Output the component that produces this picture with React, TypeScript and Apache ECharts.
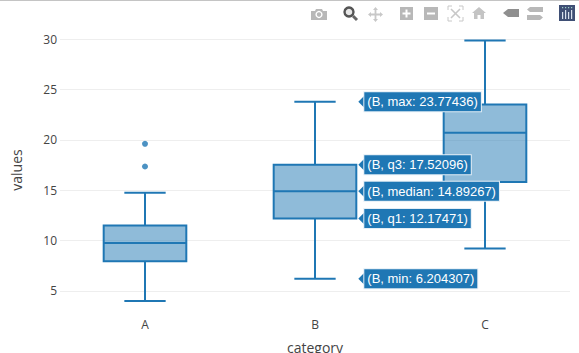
import React, { useEffect, useRef } from "react";
import * as echarts from "echarts";

const categories = ["A", "B", "C"];
const boxA = [0, 4.0, 7.95, 9.75, 11.5, 14.75];
const boxB = [1, 6.204307, 12.17471, 14.89267, 17.52096, 23.77436];
const boxC = [2, 9.2, 15.8, 20.7, 23.5, 29.85];
const outliersA = [[0, 17.35], [0, 19.6]];
const hoverStats = ["min", "q1", "median", "q3", "max"];
const hoverValues = ["6.204307", "12.17471", "14.89267", "17.52096", "23.77436"];
const hoverNumbers = [6.204307, 12.17471, 14.89267, 17.52096, 23.77436];
const yTicks = [5, 10, 15, 20, 25, 30];

const BLUE = "#1f77b4";
const GREY = "#b8b8b8";

echarts.graphic.registerShape("mbCamera", echarts.graphic.extendPath("M0 3 L4 3 L5 1 L11 1 L12 3 L16 3 L16 12 L0 12 Z", {}));
echarts.graphic.registerShape("mbHome", echarts.graphic.extendPath("M7 0 L14 6 L12 6 L12 12 L8.5 12 L8.5 8 L5.5 8 L5.5 12 L2 12 L2 6 L0 6 Z", {}));
echarts.graphic.registerShape("mbTag", echarts.graphic.extendPath("M0 4 L5 0 L16 0 L16 8 L5 8 Z", {}));
echarts.graphic.registerShape("mbCmp", echarts.graphic.extendPath("M3 0 L16 0 L16 5 L3 5 L0 2.5 Z M0 8 L13 8 L16 10.5 L13 13 L0 13 Z", {}));
echarts.graphic.registerShape("mbPan", echarts.graphic.extendPath("M7.5 0 L10 3 L8.4 3 L8.4 6.6 L12 6.6 L12 5 L15 7.5 L12 10 L12 8.4 L8.4 8.4 L8.4 12 L10 12 L7.5 15 L5 12 L6.6 12 L6.6 8.4 L3 8.4 L3 10 L0 7.5 L3 5 L3 6.6 L6.6 6.6 L6.6 3 L5 3 Z", {}));

function corner(x: number, y: number, dx: number, dy: number) {
  return { type: "polyline", shape: { points: [[x + dx * 4, y], [x, y], [x, y + dy * 4]] }, style: { stroke: "#c8c8c8", lineWidth: 1, fill: "none" } };
}

const modebar: any[] = [
  { type: "rect", shape: { x: 0, y: 0, width: 579, height: 1 }, style: { fill: "#c4c4c4" } },
  { type: "mbCamera", x: 311, y: 8, style: { fill: GREY } },
  { type: "circle", shape: { cx: 319, cy: 14.5, r: 3.6 }, style: { fill: "#fff" } },
  { type: "circle", shape: { cx: 319, cy: 14.5, r: 2.2 }, style: { fill: GREY } },
  { type: "line", shape: { x1: 353, y1: 16, x2: 357, y2: 20 }, style: { stroke: "#666", lineWidth: 3 } },
  { type: "circle", shape: { cx: 349, cy: 12, r: 4.5 }, style: { fill: "#e8e8e8", stroke: "#555", lineWidth: 2.4 } },
  { type: "mbPan", x: 368, y: 7, style: { fill: "#c8c8c8" } },
  { type: "rect", shape: { x: 400, y: 7, width: 13, height: 13 }, style: { fill: GREY } },
  { type: "rect", shape: { x: 402.5, y: 12.5, width: 8, height: 2 }, style: { fill: "#fff" } },
  { type: "rect", shape: { x: 405.5, y: 9.5, width: 2, height: 8 }, style: { fill: "#fff" } },
  { type: "rect", shape: { x: 424, y: 7, width: 14, height: 13 }, style: { fill: GREY } },
  { type: "rect", shape: { x: 427, y: 12.5, width: 8, height: 2 }, style: { fill: "#fff" } },
  corner(448, 6, 1, 1),
  corner(463, 6, -1, 1),
  corner(448, 21, 1, -1),
  corner(463, 21, -1, -1),
  { type: "line", shape: { x1: 451, y1: 9, x2: 460, y2: 18 }, style: { stroke: "#c8c8c8", lineWidth: 1.6 } },
  { type: "line", shape: { x1: 460, y1: 9, x2: 451, y2: 18 }, style: { stroke: "#c8c8c8", lineWidth: 1.6 } },
  { type: "mbHome", x: 472, y: 7, style: { fill: "#c4c4c4" } },
  { type: "mbTag", x: 503, y: 9, style: { fill: "#8f8f8f" } },
  { type: "mbCmp", x: 527, y: 7, style: { fill: GREY } },
  { type: "rect", shape: { x: 559, y: 5, width: 16, height: 16 }, style: { fill: "#3f4f75" } },
  ...[562, 565, 568, 571].flatMap((x, i) => [
    { type: "rect", shape: { x, y: i % 2 ? 10 : 12, width: 1.2, height: i % 2 ? 9 : 7 }, style: { fill: "#d8e0ee" } },
    { type: "rect", shape: { x, y: 7, width: 1.2, height: 1.2 }, style: { fill: "#9fd0c8" } },
  ]),
];

function renderBox(params: any, api: any) {
  const x = api.value(0);
  const size = api.size([1, 0])[0];
  const half = size * 0.243;
  const cap = half * 0.5;
  const pMin = api.coord([x, api.value(1)]);
  const pQ1 = api.coord([x, api.value(2)]);
  const pMed = api.coord([x, api.value(3)]);
  const pQ3 = api.coord([x, api.value(4)]);
  const pMax = api.coord([x, api.value(5)]);
  const cx = pMin[0];
  const line = { stroke: BLUE, lineWidth: 2, fill: "none" };
  return {
    type: "group",
    children: [
      { type: "rect", shape: { x: cx - half, y: pQ3[1], width: half * 2, height: pQ1[1] - pQ3[1] }, style: { fill: "rgba(31,119,180,0.5)", stroke: BLUE, lineWidth: 2 } },
      { type: "line", shape: { x1: cx - half, y1: pMed[1], x2: cx + half, y2: pMed[1] }, style: line },
      { type: "line", shape: { x1: cx, y1: pQ3[1], x2: cx, y2: pMax[1] }, style: line },
      { type: "line", shape: { x1: cx, y1: pQ1[1], x2: cx, y2: pMin[1] }, style: line },
      { type: "line", shape: { x1: cx - cap, y1: pMax[1], x2: cx + cap, y2: pMax[1] }, style: line },
      { type: "line", shape: { x1: cx - cap, y1: pMin[1], x2: cx + cap, y2: pMin[1] }, style: line },
    ],
  };
}

function renderHover(params: any, api: any) {
  const x = api.value(0);
  const half = api.size([1, 0])[0] * 0.243;
  const p = api.coord([x, api.value(1)]);
  const tip = p[0] + half + 2;
  const y = p[1];
  const i = params.dataIndex;
  return {
    type: "group",
    children: [
      { type: "polygon", shape: { points: [[tip, y], [tip + 6, y - 6], [tip + 6, y + 6]] }, style: { fill: BLUE } },
      {
        type: "text",
        x: tip + 6,
        y,
        style: {
          text: `(B, ${hoverStats[i]}: ${hoverValues[i]})`,
          fill: "#fff",
          font: '13px "Liberation Sans", Arial, sans-serif',
          verticalAlign: "middle",
          align: "left",
          backgroundColor: BLUE,
          borderColor: "#e4eef6",
          borderWidth: 1,
          padding: [3, 3, 3, 3],
        },
      },
    ],
  };
}

export default function App() {
  const ref = useRef<HTMLDivElement>(null);
  useEffect(() => {
    document.body.style.margin = "0";
    const chart = echarts.init(ref.current!, undefined, { renderer: "svg" });
    chart.setOption({
      animation: false,
      backgroundColor: "#fff",
      grid: { left: 60, right: 9, top: 29, bottom: 42, outerBoundsMode: "none" },
      xAxis: {
        type: "category",
        data: categories,
        name: "category",
        nameLocation: "middle",
        nameGap: 29,
        nameTextStyle: { color: "#444", fontSize: 14, fontFamily: "Open Sans" },
        axisLine: { show: false },
        axisTick: { show: false },
        axisLabel: { color: "#444", fontSize: 12, fontFamily: "Open Sans", margin: 7 },
        splitLine: { show: false },
      },
      yAxis: {
        type: "value",
        min: 3,
        max: 31,
        name: "values",
        nameLocation: "middle",
        nameGap: 37,
        nameTextStyle: { color: "#444", fontSize: 14, fontFamily: "Open Sans" },
        axisLine: { show: false },
        axisTick: { show: false, customValues: yTicks },
        axisLabel: { color: "#444", fontSize: 12, fontFamily: "Open Sans", margin: 3, customValues: yTicks },
        splitLine: { show: true, lineStyle: { color: "#eeeeee", width: 1 } },
      },
      graphic: { elements: modebar },
      series: [
        {
          type: "custom",
          renderItem: renderBox,
          data: [boxA, boxB, boxC],
          encode: { x: 0, y: [1, 2, 3, 4, 5] },
          silent: true,
          z: 2,
        },
        {
          type: "scatter",
          data: outliersA,
          symbolSize: 6,
          itemStyle: { color: BLUE },
          z: 3,
        },
        {
          type: "custom",
          renderItem: renderHover,
          data: hoverNumbers.map((v) => [1, v]),
          encode: { x: 0, y: 1 },
          silent: true,
          z: 5,
        },
      ],
    });
    return () => chart.dispose();
  }, []);
  return <div ref={ref} style={{ width: 579, height: 353, overflow: "hidden" }} />;
}
